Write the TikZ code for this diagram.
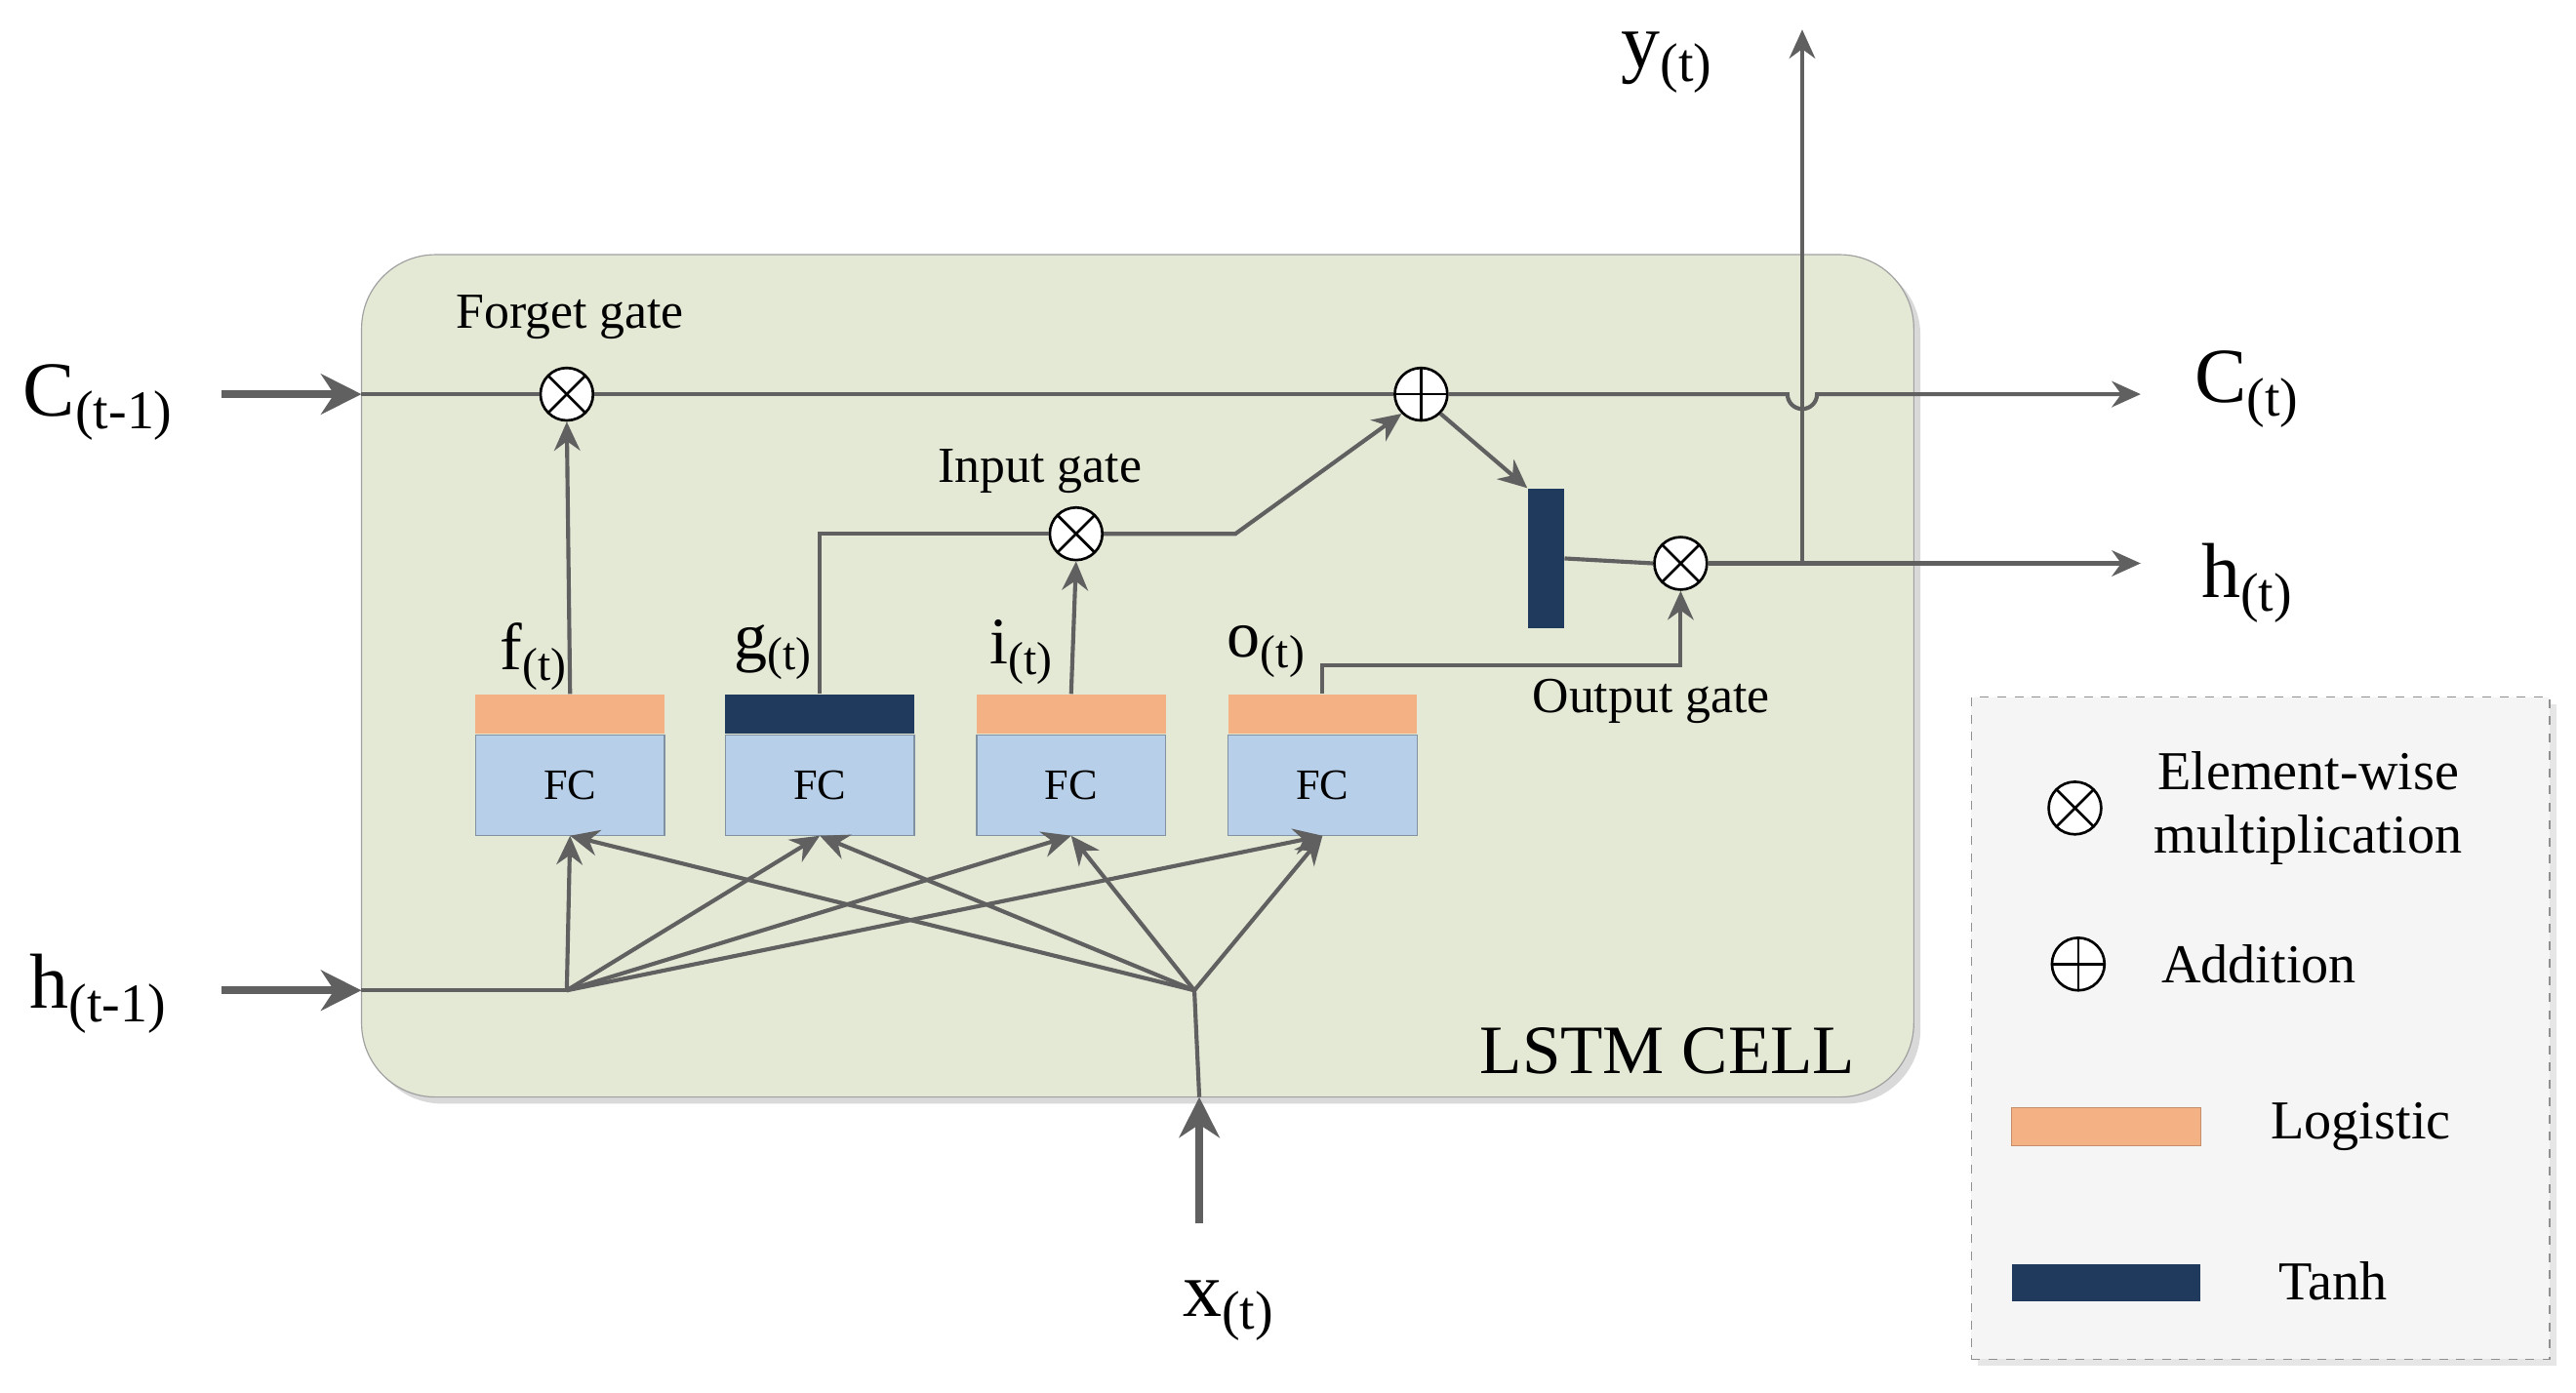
\documentclass[tikz,border=0pt]{standalone}
\usepackage{fontspec}
\setmainfont{Liberation Serif}
\usetikzlibrary{arrows.meta,shadows}
\definecolor{cellbg}{HTML}{E4E9D6}
\definecolor{lg}{HTML}{606060}
\definecolor{org}{HTML}{F4B183}
\definecolor{navy}{HTML}{1F3A5C}
\definecolor{fcb}{HTML}{B7CFE8}
\tikzset{
 ln/.style={draw=lg,line width=1.4pt},
 ar/.style={ln,-{Stealth[length=10pt,width=9pt]}},
 big/.style={ln,line width=2.6pt,-{Stealth[length=14pt,width=14pt]}},
 op/.style={circle,draw=black,fill=white,minimum size=0.64cm,inner sep=0pt,line width=0.9pt},
 fc/.style={draw=fcb!70!black,fill=fcb,minimum width=2.3cm,minimum height=1.22cm,font=\fontsize{15}{18}\selectfont},
 bar/.style={minimum width=2.3cm,minimum height=0.48cm,inner sep=0pt,draw=none},
 lab/.style={font=\fontsize{17.5}{20}\selectfont},
 blab/.style={font=\fontsize{27}{32}\selectfont},
 slab/.style={font=\fontsize{23}{28}\selectfont}
}
\newcommand{\mulsym}[1]{\draw[line width=0.9pt] (#1)+(-0.226cm,-0.226cm)--+(0.226cm,0.226cm) (#1)+(-0.226cm,0.226cm)--+(0.226cm,-0.226cm);}
\newcommand{\addsym}[1]{\draw[line width=0.9pt] (#1)+(-0.32cm,0)--+(0.32cm,0) (#1)+(0,-0.32cm)--+(0,0.32cm);}
\begin{document}
\begin{tikzpicture}[x=0.02cm,y=-0.02cm]
\useasboundingbox (0,0) rectangle (1568,848);
% cell
\node[draw=lg!60,fill=cellbg,rounded corners=0.9cm,drop shadow={opacity=0.3},minimum width=18.9cm,minimum height=10.26cm] (cell) at (692.5,411.5) {};
\node[font=\fontsize{24}{28}\selectfont] (lstm) at (1015,640) {LSTM CELL};
% FC blocks
\foreach \n/\x/\c in {f/347/org,g/499/navy,i/652/org,o/805/org}{
 \node[fc] (fc\n) at (\x,478) {FC};
 \node[bar,fill=\c,anchor=south] (bar\n) at (fc\n.north) {};
}
\node[slab] at (325,400) {f\textsubscript{(t)}};
\node[slab] at (471,397) {g\textsubscript{(t)}};
\node[slab] at (622,397) {i\textsubscript{(t)}};
\node[slab] at (771,397) {o\textsubscript{(t)}};
% operators
\node[op] (fm) at (345,240) {}; \mulsym{fm}
\node[op] (ad) at (865,240) {}; \addsym{ad}
\node[op] (im) at (655,325) {}; \mulsym{im}
\node[op] (om) at (1023,343) {}; \mulsym{om}
\node[fill=navy,minimum width=0.44cm,minimum height=1.7cm,inner sep=0pt] (th) at (941,340) {};
\node[lab] at (347,193) {Forget gate};
\node[lab] at (633,287) {Input gate};
\node[lab] at (1005,427) {Output gate};
% labels outside
\node[blab] (cin) at (60,245) {C\textsubscript{(t-1)}};
\node[blab] (hin) at (60,605) {h\textsubscript{(t-1)}};
\node[blab] (cout) at (1368,237) {C\textsubscript{(t)}};
\node[blab] (hout) at (1368,355) {h\textsubscript{(t)}};
\node[blab] (yout) at (1015,38) {y\textsubscript{(t)}};
\node[blab] (xin) at (748,798) {x\textsubscript{(t)}};
\coordinate (c0) at (135,240); \coordinate (c1) at (220,240);
\coordinate (h0) at (135,603); \coordinate (h1) at (220,603);
\coordinate (hp) at (345,603); \coordinate (xp) at (727,603);
\coordinate (x0) at (730,745); \coordinate (x1) at (730,668);
\coordinate (cend) at (1303,240); \coordinate (hend) at (1303,343);
\coordinate (br) at (1097,343); \coordinate (ytop) at (1097,18);
\coordinate (gk) at (752,325); \coordinate (ok) at (805,405);
% input arrows
\draw[big] (c0)--(c1);
\draw[big] (h0)--(h1);
\draw[big] (x0)--(x1);
% cell state line
\draw[ln] (c1)--(fm);
\draw[ln] (fm)--(ad);
\draw[ar] (ad.east)--(1088,240) arc (180:0:9) -- (cend);
% gates
\draw[ar] (barf.north)--(fm.south);
\draw[ln] (barg.north)|-(im.west);
\draw[ar] (im.east)--(gk)--(ad.south west);
\draw[ar] (bari.north)--(im.south);
\draw[ar] (ad.south east)--(th.north west);
\draw[ln] (th.east)--(om.west);
\draw[ar] (baro.north)--(ok)-|(om.south);
\draw[ar] (om.east)--(hend);
\draw[ar] (br)--(ytop);
% fan-in
\draw[ln] (h1)--(hp);
\draw[ln] (x1)--(xp);
\foreach \t in {f,g,i,o}{
 \draw[ar] (hp)--(fc\t.south);
 \draw[ar] (xp)--(fc\t.south);
}
% legend
\node[draw=lg!70,dashed,fill=gray!8,minimum width=7.04cm,minimum height=8.06cm,drop shadow={opacity=0.2}] (leg) at (1376,626) {};
\node[op,draw=black] (lm) at (1263,492) {}; \mulsym{lm}
\node[op,draw=black] (la) at (1265,587) {}; \addsym{la}
\node[align=center,font=\fontsize{19}{22}\selectfont] at (1405,492) {Element-wise\\multiplication};
\node[font=\fontsize{19}{22}\selectfont] at (1375,587) {Addition};
\node[fill=org,minimum width=2.3cm,minimum height=0.46cm,inner sep=0pt,draw=org!80!black] (lo) at (1282,686) {};
\node[fill=navy,minimum width=2.3cm,minimum height=0.46cm,inner sep=0pt] (lt) at (1282,781) {};
\node[font=\fontsize{19}{22}\selectfont] at (1437,686) {Logistic};
\node[font=\fontsize{19}{22}\selectfont] at (1420,780) {Tanh};
\end{tikzpicture}
\end{document}
